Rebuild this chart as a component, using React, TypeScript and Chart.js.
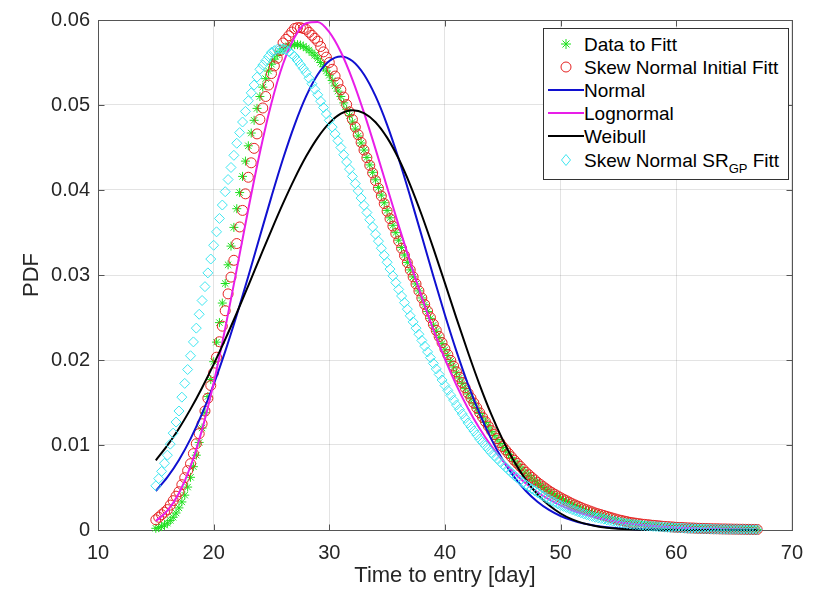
import React, { useEffect, useRef } from 'react';
import { Chart, registerables } from 'chart.js';

Chart.register(...registerables);

// ---------- tick labels ----------
const X_TICKS = [10, 20, 30, 40, 50, 60, 70];
const Y_TICKS = [0, 0.01, 0.02, 0.03, 0.04, 0.05, 0.06];

// ---------- sampling grids (days) ----------
const markerDays = Array.from({ length: 209 }, (_, i) => 15 + i * 0.25); // 15 .. 67 step 0.25
const curveDays = Array.from({ length: 53 }, (_, i) => 15 + i); // 15 .. 67 step 1

// ---------- series values ----------
// Data to Fitt (green asterisks), one row per day (4 quarter-day samples)
const dataToFitt = [
  0.0002, 0.00028, 0.0004, 0.00058,
  0.0008, 0.00113, 0.0015, 0.002,
  0.0026, 0.0033, 0.0041, 0.00505,
  0.0062, 0.00745, 0.0088, 0.0103,
  0.012, 0.0138, 0.0157, 0.0177,
  0.0198, 0.0221, 0.0244, 0.0267,
  0.029, 0.0312, 0.0334, 0.0356,
  0.0378, 0.0397, 0.0416, 0.0434,
  0.0452, 0.0467, 0.0482, 0.0496,
  0.051, 0.0521, 0.0531, 0.054,
  0.0548, 0.0554, 0.0559, 0.0563,
  0.0566, 0.0568, 0.05695, 0.05705,
  0.0571, 0.0571, 0.05705, 0.0569,
  0.0567, 0.05645, 0.05615, 0.05585,
  0.0555, 0.055, 0.0545, 0.054,
  0.0535, 0.05288, 0.05225, 0.05163,
  0.051, 0.05025, 0.0495, 0.04875,
  0.048, 0.04718, 0.04635, 0.04553,
  0.0447, 0.04383, 0.04295, 0.04208,
  0.0412, 0.0403, 0.0394, 0.0385,
  0.0376, 0.03673, 0.03585, 0.03498,
  0.0341, 0.03323, 0.03235, 0.03148,
  0.0306, 0.02978, 0.02895, 0.02813,
  0.0273, 0.0265, 0.0257, 0.0249,
  0.0241, 0.02338, 0.02265, 0.02193,
  0.0212, 0.02053, 0.01985, 0.01918,
  0.0185, 0.01788, 0.01725, 0.01663,
  0.016, 0.01543, 0.01485, 0.01428,
  0.0137, 0.01318, 0.01265, 0.01213,
  0.0116, 0.01113, 0.01065, 0.01018,
  0.0097, 0.0093, 0.0089, 0.0085,
  0.0081, 0.00775, 0.0074, 0.00705,
  0.0067, 0.0064, 0.0061, 0.0058,
  0.0055, 0.00525, 0.005, 0.00475,
  0.0045, 0.0043, 0.0041, 0.0039,
  0.0037, 0.00353, 0.00335, 0.00318,
  0.003, 0.00285, 0.0027, 0.00255,
  0.0024, 0.00228, 0.00215, 0.00203,
  0.0019, 0.0018, 0.0017, 0.0016,
  0.0015, 0.0014, 0.0013, 0.0012,
  0.0011, 0.00105, 0.001, 0.00095,
  0.0009, 0.00085, 0.0008, 0.00075,
  0.0007, 0.00065, 0.0006, 0.00055,
  0.0005, 0.00048, 0.00045, 0.00043,
  0.0004, 0.00038, 0.00035, 0.00033,
  0.0003, 0.00029, 0.00027, 0.00026,
  0.00024, 0.00023, 0.00021, 0.0002,
  0.00018, 0.00017, 0.00016, 0.00015,
  0.00014, 0.00013, 0.00012, 0.00011,
  0.0001, 0.0001, 0.00009, 0.00009,
  0.00008, 0.00008, 0.00007, 0.00007,
  0.00006, 0.00006, 0.00006, 0.00005,
  0.00005,
];

// Skew Normal Initial Fitt (red circles)
const skewNormalInitial = [
  0.0012, 0.0015, 0.0018, 0.0021,
  0.0024, 0.00293, 0.00345, 0.00398,
  0.0045, 0.00533, 0.00615, 0.00698,
  0.0078, 0.00898, 0.01015, 0.01133,
  0.0125, 0.014, 0.0155, 0.017,
  0.0185, 0.02033, 0.02215, 0.02398,
  0.0258, 0.02778, 0.02975, 0.03173,
  0.0337, 0.03565, 0.0376, 0.03955,
  0.0415, 0.0432, 0.0449, 0.0466,
  0.0483, 0.04965, 0.051, 0.05235,
  0.0537, 0.0546, 0.0555, 0.0564,
  0.0573, 0.05773, 0.05815, 0.05858,
  0.059, 0.0591, 0.0591, 0.059,
  0.0589, 0.05855, 0.0582, 0.05785,
  0.0575, 0.05688, 0.05625, 0.05563,
  0.055, 0.0542, 0.0534, 0.0526,
  0.0518, 0.05093, 0.05005, 0.04918,
  0.0483, 0.0474, 0.0465, 0.0456,
  0.0447, 0.0438, 0.0429, 0.042,
  0.0411, 0.0402, 0.0393, 0.0384,
  0.0375, 0.03663, 0.03575, 0.03488,
  0.034, 0.03315, 0.0323, 0.03145,
  0.0306, 0.02978, 0.02895, 0.02813,
  0.0273, 0.02653, 0.02575, 0.02498,
  0.0242, 0.02348, 0.02275, 0.02203,
  0.0213, 0.02063, 0.01995, 0.01928,
  0.0186, 0.01798, 0.01735, 0.01673,
  0.0161, 0.01553, 0.01495, 0.01438,
  0.0138, 0.01328, 0.01275, 0.01223,
  0.0117, 0.01123, 0.01075, 0.01028,
  0.0098, 0.0094, 0.009, 0.0086,
  0.0082, 0.00785, 0.0075, 0.00715,
  0.0068, 0.0065, 0.0062, 0.0059,
  0.0056, 0.00535, 0.0051, 0.00485,
  0.0046, 0.0044, 0.0042, 0.004,
  0.0038, 0.00363, 0.00345, 0.00328,
  0.0031, 0.00295, 0.0028, 0.00265,
  0.0025, 0.00238, 0.00225, 0.00213,
  0.002, 0.0019, 0.0018, 0.0017,
  0.0016, 0.0015, 0.0014, 0.0013,
  0.0012, 0.00113, 0.00105, 0.00098,
  0.0009, 0.00085, 0.0008, 0.00075,
  0.0007, 0.00066, 0.00063, 0.00059,
  0.00055, 0.00052, 0.00049, 0.00045,
  0.00042, 0.0004, 0.00037, 0.00035,
  0.00032, 0.0003, 0.00029, 0.00027,
  0.00025, 0.00024, 0.00023, 0.00021,
  0.0002, 0.00019, 0.00018, 0.00016,
  0.00015, 0.00014, 0.00014, 0.00013,
  0.00012, 0.00012, 0.00011, 0.00011,
  0.0001, 0.0001, 0.00009, 0.00009,
  0.00008, 0.00008, 0.00007, 0.00007,
  0.00006,
];

// Skew Normal SR_GP Fitt (cyan diamonds)
const skewNormalSRGP = [
  0.0052, 0.00605, 0.0069, 0.00785,
  0.0088, 0.0101, 0.0114, 0.0127,
  0.014, 0.01563, 0.01725, 0.01888,
  0.0205, 0.02213, 0.02375, 0.02538,
  0.027, 0.02863, 0.03025, 0.03188,
  0.0335, 0.03508, 0.03665, 0.03823,
  0.0398, 0.04123, 0.04265, 0.04408,
  0.0455, 0.04675, 0.048, 0.04925,
  0.0505, 0.05143, 0.05235, 0.05328,
  0.0542, 0.0547, 0.0552, 0.0557,
  0.0562, 0.0564, 0.05655, 0.0566,
  0.0566, 0.0565, 0.0563, 0.056,
  0.0557, 0.05523, 0.05475, 0.05428,
  0.0538, 0.05315, 0.0525, 0.05185,
  0.0512, 0.05045, 0.0497, 0.04895,
  0.0482, 0.0474, 0.0466, 0.0458,
  0.045, 0.04415, 0.0433, 0.04245,
  0.0416, 0.04075, 0.0399, 0.03905,
  0.0382, 0.03735, 0.0365, 0.03565,
  0.0348, 0.03398, 0.03315, 0.03233,
  0.0315, 0.0307, 0.0299, 0.0291,
  0.0283, 0.02753, 0.02675, 0.02598,
  0.0252, 0.02448, 0.02375, 0.02303,
  0.0223, 0.02163, 0.02095, 0.02028,
  0.0196, 0.01895, 0.0183, 0.01765,
  0.017, 0.01643, 0.01585, 0.01528,
  0.0147, 0.01418, 0.01365, 0.01313,
  0.0126, 0.01213, 0.01165, 0.01118,
  0.0107, 0.0103, 0.0099, 0.0095,
  0.0091, 0.00875, 0.0084, 0.00805,
  0.0077, 0.00738, 0.00705, 0.00673,
  0.0064, 0.00613, 0.00585, 0.00558,
  0.0053, 0.00508, 0.00485, 0.00463,
  0.0044, 0.0042, 0.004, 0.0038,
  0.0036, 0.00343, 0.00325, 0.00308,
  0.0029, 0.00278, 0.00265, 0.00253,
  0.0024, 0.00228, 0.00215, 0.00203,
  0.0019, 0.0018, 0.0017, 0.0016,
  0.0015, 0.00143, 0.00135, 0.00128,
  0.0012, 0.00113, 0.00105, 0.00098,
  0.0009, 0.00085, 0.0008, 0.00075,
  0.0007, 0.00066, 0.00063, 0.00059,
  0.00055, 0.00052, 0.00049, 0.00046,
  0.00043, 0.00041, 0.00038, 0.00036,
  0.00033, 0.00031, 0.0003, 0.00028,
  0.00026, 0.00025, 0.00023, 0.00022,
  0.0002, 0.00019, 0.00018, 0.00016,
  0.00015, 0.00014, 0.00014, 0.00013,
  0.00012, 0.00011, 0.00011, 0.0001,
  0.00009, 0.00009, 0.00008, 0.00008,
  0.00007, 0.00007, 0.00006, 0.00006,
  0.00005, 0.00005, 0.00005, 0.00004,
  0.00004,
];

// Normal fit (blue line), one value per day 15..67
const normalFit = [
  0.00459, 0.00621, 0.00824, 0.01072, 0.01368, 0.01712, 0.02101, 0.02529, 0.02985, 0.03455,
  0.03922, 0.04367, 0.04767, 0.05104, 0.05359, 0.05518, 0.05572, 0.05518, 0.05359, 0.05104,
  0.04767, 0.04367, 0.03922, 0.03455, 0.02985, 0.02529, 0.02101, 0.01712, 0.01368, 0.01072,
  0.00824, 0.00621, 0.00459, 0.00333, 0.00236, 0.00165, 0.00113, 0.000755, 0.000496, 0.00032,
  0.000202, 0.000125, 0.000076, 0.000046, 0.000027, 0.000015, 0.000009, 0.000005, 0.000003, 0.000001,
  0.000001, 0, 0,
];

// Lognormal fit (magenta line)
const lognormalFit = [
  0.00105, 0.00227, 0.00433, 0.00747, 0.01181, 0.0173, 0.02372, 0.03069, 0.03776, 0.04442,
  0.05023, 0.05482, 0.05798, 0.05962, 0.05977, 0.05857, 0.05623, 0.05299, 0.0491, 0.04481,
  0.04032, 0.03583, 0.03148, 0.02736, 0.02356, 0.0201, 0.01702, 0.0143, 0.01193, 0.0099,
  0.00816, 0.0067, 0.00547, 0.00444, 0.0036, 0.0029, 0.00233, 0.00187, 0.00149, 0.00119,
  0.00095, 0.00075, 0.00059, 0.00047, 0.00037, 0.00029, 0.00023, 0.00018, 0.00014, 0.00011,
  0.00009, 0.00007, 0.00005,
];

// Weibull fit (black line)
const weibullFit = [
  0.0082, 0.00995, 0.01195, 0.01422, 0.01674, 0.01948, 0.02242, 0.02553, 0.02876, 0.03204,
  0.03529, 0.03842, 0.04134, 0.04396, 0.04617, 0.04787, 0.04898, 0.04938, 0.04905, 0.04797,
  0.04616, 0.04367, 0.04058, 0.03703, 0.03313, 0.02904, 0.0249, 0.02088, 0.01708, 0.01363,
  0.0106, 0.00802, 0.00589, 0.0042, 0.0029, 0.00194, 0.00125, 0.00078, 0.00047, 0.00027,
  0.00015, 0.00008, 0.00004, 0.00002, 0.00001, 0.000005, 0.000002, 0.000001, 0, 0,
  0, 0, 0,
];

// ---------- styling ----------
const FONT = "'Liberation Sans', Arial, Helvetica, sans-serif";
const AXIS_TEXT = '#262626';
const GREEN = '#1fe01f';
const RED = '#e52222';
const BLUE = '#1010d0';
const MAGENTA = '#e81ee8';
const BLACK = '#000000';
const CYAN = '#3ee6f0';

const toPoints = (xs: number[], ys: number[]) => ys.map((y, i) => ({ x: xs[i], y }));

const axesBoxPlugin = {
  id: 'axesBox',
  beforeDatasetsDraw(chart: any) {
    const { ctx, chartArea: a, scales } = chart;
    ctx.save();
    ctx.strokeStyle = '#555555';
    ctx.lineWidth = 1;
    const l = Math.round(a.left) + 0.5;
    const r = Math.round(a.right) + 0.5;
    const t = Math.round(a.top) + 0.5;
    const b = Math.round(a.bottom) + 0.5;
    ctx.strokeRect(l, t, r - l, b - t);
    const L = 6;
    ctx.beginPath();
    for (const v of X_TICKS) {
      const px = Math.round(scales.x.getPixelForValue(v)) + 0.5;
      ctx.moveTo(px, b);
      ctx.lineTo(px, b - L);
      ctx.moveTo(px, t);
      ctx.lineTo(px, t + L);
    }
    for (const v of Y_TICKS) {
      const py = Math.round(scales.y.getPixelForValue(v)) + 0.5;
      ctx.moveTo(l, py);
      ctx.lineTo(l + L, py);
      ctx.moveTo(r, py);
      ctx.lineTo(r - L, py);
    }
    ctx.stroke();
    ctx.restore();
  },
};

const LEGEND_ROWS = [
  { kind: 'star', color: GREEN, text: 'Data to Fitt' },
  { kind: 'circle', color: RED, text: 'Skew Normal Initial Fitt' },
  { kind: 'line', color: BLUE, text: 'Normal' },
  { kind: 'line', color: MAGENTA, text: 'Lognormal' },
  { kind: 'line', color: BLACK, text: 'Weibull' },
  { kind: 'diamond', color: CYAN, text: 'SRGP' },
];
const LEGEND_CENTERS = [15, 38, 61, 84, 107, 131];

function LegendMarker({ kind, color }: { kind: string; color: string }) {
  const cx = 22;
  const cy = 8;
  let el: any = null;
  if (kind === 'line') {
    el = <line x1={4} y1={cy} x2={40} y2={cy} stroke={color} strokeWidth={2} />;
  } else if (kind === 'circle') {
    el = <circle cx={cx} cy={cy} r={5} fill="none" stroke={color} strokeWidth={1} />;
  } else if (kind === 'diamond') {
    el = (
      <polygon
        points={`${cx},${cy - 5.5} ${cx + 4.5},${cy} ${cx},${cy + 5.5} ${cx - 4.5},${cy}`}
        fill="none"
        stroke={color}
        strokeWidth={1}
      />
    );
  } else {
    const d = 3.5;
    el = (
      <g stroke={color} strokeWidth={1}>
        <line x1={cx - 5} y1={cy} x2={cx + 5} y2={cy} />
        <line x1={cx} y1={cy - 5} x2={cx} y2={cy + 5} />
        <line x1={cx - d} y1={cy - d} x2={cx + d} y2={cy + d} />
        <line x1={cx - d} y1={cy + d} x2={cx + d} y2={cy - d} />
      </g>
    );
  }
  return (
    <svg width={44} height={16} style={{ position: 'absolute', left: 0, top: -8, overflow: 'visible' }}>
      {el}
    </svg>
  );
}

export default function App() {
  const canvasRef = useRef<HTMLCanvasElement>(null);

  useEffect(() => {
    if (!canvasRef.current) return;
    const markerBase = { showLine: false, clip: false as any, pointBorderWidth: 1, pointBackgroundColor: 'rgba(0,0,0,0)' };
    const lineBase = { showLine: true, pointRadius: 0, borderWidth: 2, cubicInterpolationMode: 'monotone' as const, clip: false as any, fill: false };
    const chart = new Chart(canvasRef.current, {
      type: 'scatter',
      data: {
        datasets: [
          { ...markerBase, label: 'Data to Fitt', data: toPoints(markerDays, dataToFitt), pointStyle: 'star', pointRadius: 4.5, borderColor: GREEN, pointBorderColor: GREEN, order: 6 },
          { ...markerBase, label: 'Skew Normal Initial Fitt', data: toPoints(markerDays, skewNormalInitial), pointStyle: 'circle', pointRadius: 5, borderColor: RED, pointBorderColor: RED, order: 5 },
          { ...lineBase, label: 'Normal', data: toPoints(curveDays, normalFit), borderColor: BLUE, order: 4 },
          { ...lineBase, label: 'Lognormal', data: toPoints(curveDays, lognormalFit), borderColor: MAGENTA, order: 3 },
          { ...lineBase, label: 'Weibull', data: toPoints(curveDays, weibullFit), borderColor: BLACK, order: 2 },
          { ...markerBase, label: 'Skew Normal SRGP Fitt', data: toPoints(markerDays, skewNormalSRGP), pointStyle: 'rectRot', pointRadius: 5, borderColor: CYAN, pointBorderColor: CYAN, order: 1 },
        ] as any,
      },
      options: {
        responsive: false,
        maintainAspectRatio: false,
        devicePixelRatio: 1,
        animation: false,
        events: [],
        layout: { padding: { left: 0, right: 13, top: 16, bottom: 0 } },
        plugins: { legend: { display: false }, tooltip: { enabled: false }, title: { display: false } },
        scales: {
          x: {
            type: 'linear',
            min: 10,
            max: 70,
            afterFit: (s: any) => { s.height = 60; },
            afterBuildTicks: (s: any) => { s.ticks = X_TICKS.map((v) => ({ value: v })); },
            ticks: { autoSkip: false, maxRotation: 0, padding: 11, color: AXIS_TEXT, font: { family: FONT, size: 20 } },
            grid: { color: 'rgba(0,0,0,0.11)', drawTicks: false, lineWidth: 1 },
            border: { display: false },
            title: { display: true, text: 'Time to entry [day]', color: AXIS_TEXT, font: { family: FONT, size: 22 }, padding: { top: 0, bottom: 1 } },
          },
          y: {
            type: 'linear',
            min: 0,
            max: 0.06,
            afterFit: (s: any) => { s.width = 98; },
            afterBuildTicks: (s: any) => { s.ticks = Y_TICKS.map((v) => ({ value: v })); },
            ticks: {
              autoSkip: false,
              padding: 8,
              color: AXIS_TEXT,
              font: { family: FONT, size: 20 },
              callback: (v: any) => (Number(v) === 0 ? '0' : Number(v).toFixed(2)),
            },
            grid: { color: 'rgba(0,0,0,0.11)', drawTicks: false, lineWidth: 1 },
            border: { display: false },
            title: { display: true, text: 'PDF', color: AXIS_TEXT, font: { family: FONT, size: 22 }, padding: { top: 19, bottom: 0 } },
          },
        },
      } as any,
      plugins: [axesBoxPlugin],
    });
    return () => chart.destroy();
  }, []);

  return (
    <div style={{ position: 'fixed', left: 0, top: 0, width: 814, height: 590, background: '#ffffff', overflow: 'hidden' }}>
      <canvas ref={canvasRef} width={814} height={590} style={{ position: 'absolute', left: 0, top: 0, width: 814, height: 590 }} />
      <div
        style={{
          position: 'absolute',
          left: 543,
          top: 28,
          width: 246,
          height: 152,
          boxSizing: 'border-box',
          border: '1px solid #333333',
          background: '#ffffff',
          fontFamily: FONT,
          fontSize: 19,
          color: '#000000',
        }}
      >
        {LEGEND_ROWS.map((row, i) => (
          <div key={i} style={{ position: 'absolute', left: 0, top: LEGEND_CENTERS[i], width: 0, height: 0 }}>
            <LegendMarker kind={row.kind} color={row.color} />
            <span style={{ position: 'absolute', left: 40, top: -9.5, lineHeight: '19px', whiteSpace: 'nowrap' }}>
              {row.kind === 'diamond' ? (
                <>
                  Skew Normal SR
                  <span style={{ fontSize: 13, position: 'relative', top: 6 }}>GP</span> Fitt
                </>
              ) : (
                row.text
              )}
            </span>
          </div>
        ))}
      </div>
    </div>
  );
}
